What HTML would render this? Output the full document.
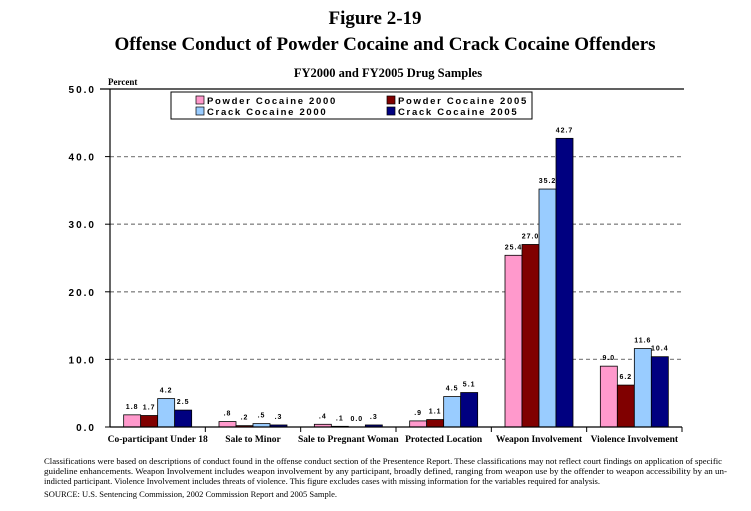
<!DOCTYPE html>
<html><head><meta charset="utf-8"><style>
body{margin:0;background:#fff;width:751px;height:506px;overflow:hidden;font-family:"Liberation Serif",serif;}
svg text{font-family:"Liberation Serif",serif;}
.lab{font-family:"Liberation Sans",sans-serif;font-weight:bold;}
</style></head><body>
<svg width="751" height="506">
<text x="375" y="24" text-anchor="middle" font-size="19" font-weight="bold">Figure 2-19</text>
<text x="385" y="50" text-anchor="middle" font-size="19" font-weight="bold">Offense Conduct of Powder Cocaine and Crack Cocaine Offenders</text>
<text x="388" y="77" text-anchor="middle" font-size="12.5" font-weight="bold">FY2000 and FY2005 Drug Samples</text>
<text x="108" y="85" font-size="9" font-weight="bold">Percent</text>
<g id="grid"></g>
<g id="bars"></g>
<g id="axes"></g>
<g>
<rect x="171" y="92" width="361" height="27" fill="#fff" stroke="#000" stroke-width="1"/>
<g id="legend"></g>
</g>
<g font-size="8.5">
<text x="44" y="464" textLength="678" lengthAdjust="spacingAndGlyphs">Classifications were based on descriptions of conduct found in the offense conduct section of the Presentence Report. These classifications may not reflect court findings on application of specific</text>
<text x="44" y="474" textLength="683" lengthAdjust="spacingAndGlyphs">guideline enhancements. Weapon Involvement includes weapon involvement by any participant, broadly defined, ranging from weapon use by the offender to weapon accessibility by an un-</text>
<text x="44" y="484" textLength="556" lengthAdjust="spacingAndGlyphs">indicted participant. Violence Involvement includes threats of violence. This figure excludes cases with missing information for the variables required for analysis.</text>
<text x="44" y="497" textLength="293" lengthAdjust="spacingAndGlyphs">SOURCE: U.S. Sentencing Commission, 2002 Commission Report and 2005 Sample.</text>
</g>
</svg>
<script>
const categories=["Co-participant Under 18","Sale to Minor","Sale to Pregnant Woman","Protected Location","Weapon Involvement","Violence Involvement"];
const powder2000=[1.8,0.8,0.4,0.9,25.4,9.0];
const powder2005=[1.7,0.2,0.1,1.1,27.0,6.2];
const crack2000=[4.2,0.5,0.0,4.5,35.2,11.6];
const crack2005=[2.5,0.3,0.3,5.1,42.7,10.4];
const labels2000p=["1.8",".8",".4",".9","25.4","9.0"];
const labels2005p=["1.7",".2",".1","1.1","27.0","6.2"];
const labels2000c=["4.2",".5","0.0","4.5","35.2","11.6"];
const labels2005c=["2.5",".3",".3","5.1","42.7","10.4"];
const seriesNames=["Powder Cocaine 2000","Powder Cocaine 2005","Crack Cocaine 2000","Crack Cocaine 2005"];
const yTicks=[0,10,20,30,40,50];
const yTickLabels=["0.0","10.0","20.0","30.0","40.0","50.0"];

const NS="http://www.w3.org/2000/svg";
const colors=["#ff99cc","#800000","#99ccff","#000080"];
const X0=110,X1=682,Y0=427,Y50=89;
const step=(X1-X0)/categories.length;
const y=v=>Y0-(v/50)*(Y0-Y50);
function mk(tag,attrs,parent){const e=document.createElementNS(NS,tag);for(const k in attrs)e.setAttribute(k,attrs[k]);parent.appendChild(e);return e;}
const grid=document.getElementById('grid'),bars=document.getElementById('bars'),axes=document.getElementById('axes'),legend=document.getElementById('legend');
yTicks.forEach((t,i)=>{
  if(t>0&&t<50){const l=mk('line',{x1:X0,x2:X1,y1:y(t),y2:y(t),stroke:'#888','stroke-width':1.3,'stroke-dasharray':'4,3'},grid);
  
  }
  const tx=mk('text',{x:X0-14,y:y(t)+4,'text-anchor':'end','class':'lab','font-size':'10','letter-spacing':'2'},axes);
  tx.textContent=yTickLabels[i];
  
  
  mk('line',{x1:X0-5,x2:X0,y1:y(t),y2:y(t),stroke:'#000'},axes);
});
mk('line',{x1:100,x2:X1+2,y1:Y50,y2:Y50,stroke:'#000','stroke-width':1.2},axes);
mk('line',{x1:X0,x2:X0,y1:Y50,y2:Y0,stroke:'#000','stroke-width':1.2},axes);
mk('line',{x1:X0,x2:X1,y1:Y0,y2:Y0,stroke:'#000','stroke-width':1.2},axes);
const series=[powder2000,powder2005,crack2000,crack2005];
const lbls=[labels2000p,labels2005p,labels2000c,labels2005c];
const bw=17;
categories.forEach((c,i)=>{
  const gx=X0+i*step;
  mk('line',{x1:gx+step,x2:gx+step,y1:Y0,y2:Y0+5,stroke:'#000'},axes);
  const ct=mk('text',{x:gx+step/2,y:Y0+15,'text-anchor':'middle','font-size':'9.5','font-weight':'bold'},axes);
  ct.textContent=c;
  
  
  const start=gx+step/2-2*bw;
  series.forEach((s,j)=>{
    const v=s[i],bx=start+j*bw;
    const r=mk('rect',{x:bx,y:y(v),width:bw,height:Y0-y(v),fill:colors[j],stroke:'#000','stroke-width':0.8},bars);
    
    
    const t=mk('text',{x:bx+bw/2,y:y(v)-6,'text-anchor':'middle','class':'lab','font-size':'7','letter-spacing':'1'},bars);
    t.textContent=lbls[j][i];
    
    
  });
});
seriesNames.forEach((n,j)=>{
  const lx=196+(j%2)*191,ly=96+Math.floor(j/2)*11;
  mk('rect',{x:lx,y:ly,width:8,height:8,fill:colors[j],stroke:'#000','stroke-width':0.7},legend);
  const t=mk('text',{x:lx+11,y:ly+8,'class':'lab','font-size':'9.5','letter-spacing':'1.7'},legend);
  t.textContent=n;
  
  
});
</script>
</body></html>
